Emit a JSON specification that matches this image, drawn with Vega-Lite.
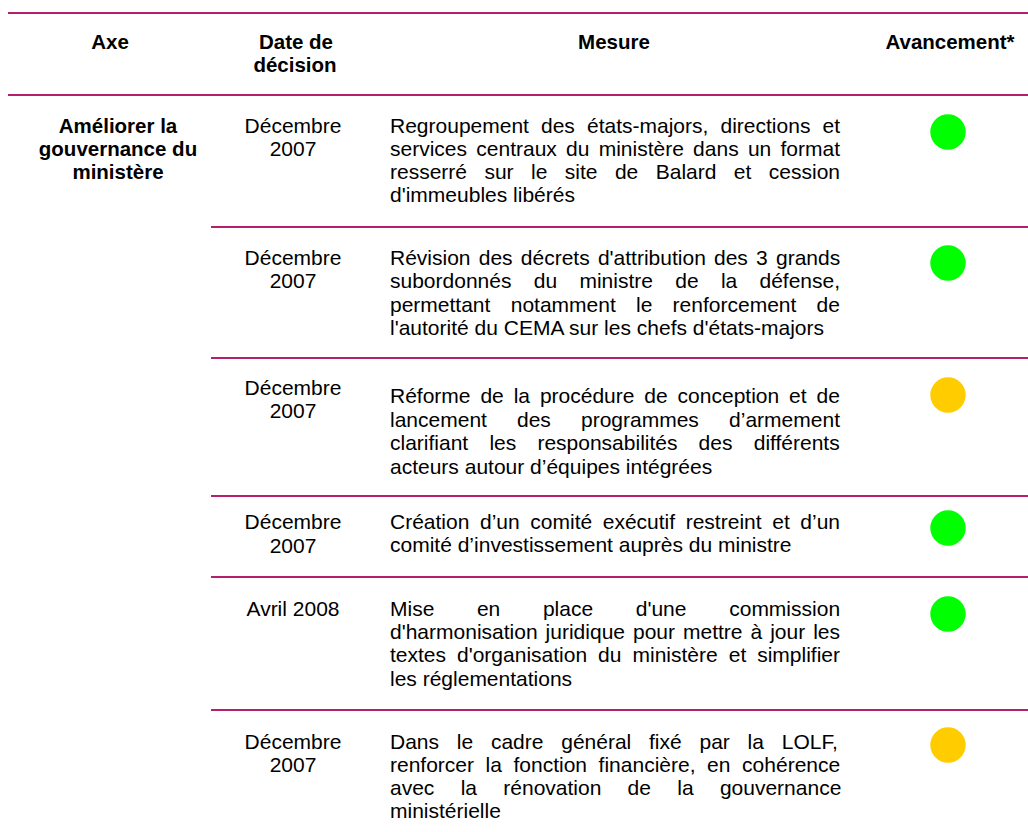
{
  "$schema": "https://vega.github.io/schema/vega-lite/v6.json",
  "width": 1028,
  "height": 832,
  "padding": 0,
  "autosize": {"type": "none"},
  "background": "white",
  "config": {"view": {"stroke": null}},
  "datasets": {
    "rules": [
      {"x1": 8, "x2": 1028, "y": 13},
      {"x1": 8, "x2": 1028, "y": 95},
      {"x1": 211, "x2": 1028, "y": 227},
      {"x1": 211, "x2": 1028, "y": 358},
      {"x1": 211, "x2": 1028, "y": 496},
      {"x1": 211, "x2": 1028, "y": 577},
      {"x1": 211, "x2": 1028, "y": 710}
    ],
    "bold": [
      {"x": 110, "y": 49, "t": "Axe"},
      {"x": 296, "y": 49, "t": "Date de"},
      {"x": 295, "y": 72, "t": "décision"},
      {"x": 614, "y": 49, "t": "Mesure"},
      {"x": 950, "y": 49, "t": "Avancement*"},
      {"x": 118, "y": 133, "t": "Améliorer la"},
      {"x": 118, "y": 156, "t": "gouvernance du"},
      {"x": 118, "y": 179, "t": "ministère"}
    ],
    "dates": [
      {"x": 293, "y": 133, "t": "Décembre"},
      {"x": 293, "y": 156, "t": "2007"},
      {"x": 293, "y": 265, "t": "Décembre"},
      {"x": 293, "y": 288, "t": "2007"},
      {"x": 293, "y": 395, "t": "Décembre"},
      {"x": 293, "y": 418, "t": "2007"},
      {"x": 293, "y": 529, "t": "Décembre"},
      {"x": 293, "y": 553, "t": "2007"},
      {"x": 293, "y": 616, "t": "Avril 2008"},
      {"x": 293, "y": 749, "t": "Décembre"},
      {"x": 293, "y": 772, "t": "2007"}
    ],
    "mesures": [
      {"x": 390, "y": 133, "t": "Regroupement"},
      {"x": 541.0, "y": 133, "t": "des"},
      {"x": 587.0, "y": 133, "t": "états-majors,"},
      {"x": 720.5, "y": 133, "t": "directions"},
      {"x": 822.5, "y": 133, "t": "et"},
      {"x": 390, "y": 156, "t": "services"},
      {"x": 476.3, "y": 156, "t": "centraux"},
      {"x": 566.0, "y": 156, "t": "du"},
      {"x": 598.7, "y": 156, "t": "ministère"},
      {"x": 693.1, "y": 156, "t": "dans"},
      {"x": 747.9, "y": 156, "t": "un"},
      {"x": 780.5, "y": 156, "t": "format"},
      {"x": 390, "y": 179, "t": "resserré"},
      {"x": 484.4, "y": 179, "t": "sur"},
      {"x": 531.0, "y": 179, "t": "le"},
      {"x": 564.8, "y": 179, "t": "site"},
      {"x": 614.9, "y": 179, "t": "de"},
      {"x": 655.7, "y": 179, "t": "Balard"},
      {"x": 733.8, "y": 179, "t": "et"},
      {"x": 768.8, "y": 179, "t": "cession"},
      {"x": 390, "y": 202, "t": "d'immeubles libérés"},
      {"x": 390, "y": 265, "t": "Révision"},
      {"x": 478.7, "y": 265, "t": "des"},
      {"x": 520.8, "y": 265, "t": "décrets"},
      {"x": 597.9, "y": 265, "t": "d'attribution"},
      {"x": 714.0, "y": 265, "t": "des"},
      {"x": 756.1, "y": 265, "t": "3"},
      {"x": 776.0, "y": 265, "t": "grands"},
      {"x": 390, "y": 288, "t": "subordonnés"},
      {"x": 533.7, "y": 288, "t": "du"},
      {"x": 579.4, "y": 288, "t": "ministre"},
      {"x": 675.2, "y": 288, "t": "de"},
      {"x": 720.9, "y": 288, "t": "la"},
      {"x": 759.5, "y": 288, "t": "défense,"},
      {"x": 390, "y": 312, "t": "permettant"},
      {"x": 510.7, "y": 312, "t": "notamment"},
      {"x": 636.0, "y": 312, "t": "le"},
      {"x": 672.6, "y": 312, "t": "renforcement"},
      {"x": 816.6, "y": 312, "t": "de"},
      {"x": 390, "y": 335, "t": "l'autorité du CEMA sur les chefs d'états-majors"},
      {"x": 390, "y": 403, "t": "Réforme"},
      {"x": 480.4, "y": 403, "t": "de"},
      {"x": 513.7, "y": 403, "t": "la"},
      {"x": 539.9, "y": 403, "t": "procédure"},
      {"x": 644.3, "y": 403, "t": "de"},
      {"x": 677.6, "y": 403, "t": "conception"},
      {"x": 789.1, "y": 403, "t": "et"},
      {"x": 816.5, "y": 403, "t": "de"},
      {"x": 390, "y": 427, "t": "lancement"},
      {"x": 517.0, "y": 427, "t": "des"},
      {"x": 581.0, "y": 427, "t": "programmes"},
      {"x": 729.1, "y": 427, "t": "d’armement"},
      {"x": 390, "y": 450, "t": "clarifiant"},
      {"x": 489.4, "y": 450, "t": "les"},
      {"x": 537.4, "y": 450, "t": "responsabilités"},
      {"x": 698.6, "y": 450, "t": "des"},
      {"x": 753.7, "y": 450, "t": "différents"},
      {"x": 390, "y": 474, "t": "acteurs autour d’équipes intégrées"},
      {"x": 390, "y": 529, "t": "Création"},
      {"x": 480.0, "y": 529, "t": "d’un"},
      {"x": 530.3, "y": 529, "t": "comité"},
      {"x": 602.7, "y": 529, "t": "exécutif"},
      {"x": 685.7, "y": 529, "t": "restreint"},
      {"x": 772.2, "y": 529, "t": "et"},
      {"x": 800.3, "y": 529, "t": "d’un"},
      {"x": 390, "y": 552, "t": "comité d’investissement auprès du ministre"},
      {"x": 390, "y": 616, "t": "Mise"},
      {"x": 476.9, "y": 616, "t": "en"},
      {"x": 542.9, "y": 616, "t": "place"},
      {"x": 635.7, "y": 616, "t": "d'une"},
      {"x": 729.2, "y": 616, "t": "commission"},
      {"x": 390, "y": 639, "t": "d'harmonisation"},
      {"x": 545.6, "y": 639, "t": "juridique"},
      {"x": 633.0, "y": 639, "t": "pour"},
      {"x": 683.0, "y": 639, "t": "mettre"},
      {"x": 750.5, "y": 639, "t": "à"},
      {"x": 770.2, "y": 639, "t": "jour"},
      {"x": 813.2, "y": 639, "t": "les"},
      {"x": 390, "y": 662, "t": "textes"},
      {"x": 457.0, "y": 662, "t": "d'organisation"},
      {"x": 598.1, "y": 662, "t": "du"},
      {"x": 632.5, "y": 662, "t": "ministère"},
      {"x": 728.7, "y": 662, "t": "et"},
      {"x": 757.2, "y": 662, "t": "simplifier"},
      {"x": 390, "y": 686, "t": "les réglementations"},
      {"x": 390, "y": 749, "t": "Dans"},
      {"x": 456.8, "y": 749, "t": "le"},
      {"x": 490.9, "y": 749, "t": "cadre"},
      {"x": 561.2, "y": 749, "t": "général"},
      {"x": 649.0, "y": 749, "t": "fixé"},
      {"x": 699.5, "y": 749, "t": "par"},
      {"x": 747.6, "y": 749, "t": "la"},
      {"x": 781.7, "y": 749, "t": "LOLF,"},
      {"x": 390, "y": 772, "t": "renforcer"},
      {"x": 485.6, "y": 772, "t": "la"},
      {"x": 513.5, "y": 772, "t": "fonction"},
      {"x": 598.6, "y": 772, "t": "financière,"},
      {"x": 707.1, "y": 772, "t": "en"},
      {"x": 742.1, "y": 772, "t": "cohérence"},
      {"x": 390, "y": 795, "t": "avec"},
      {"x": 460.7, "y": 795, "t": "la"},
      {"x": 503.3, "y": 795, "t": "rénovation"},
      {"x": 627.6, "y": 795, "t": "de"},
      {"x": 677.3, "y": 795, "t": "la"},
      {"x": 719.9, "y": 795, "t": "gouvernance"},
      {"x": 390, "y": 818, "t": "ministérielle"}
    ],
    "status": [
      {"x": 948, "y": 132, "s": "réalisé"},
      {"x": 948, "y": 263, "s": "réalisé"},
      {"x": 948, "y": 395, "s": "en cours"},
      {"x": 948, "y": 528, "s": "réalisé"},
      {"x": 948, "y": 614, "s": "réalisé"},
      {"x": 948, "y": 745, "s": "en cours"}
    ]
  },
  "layer": [
    {
      "data": {"name": "rules"},
      "mark": {"type": "rule", "color": "#B5206E", "strokeWidth": 2.2},
      "encoding": {
        "x": {"field": "x1", "type": "quantitative", "scale": {"domain": [0, 1028]}, "axis": null},
        "x2": {"field": "x2"},
        "y": {"field": "y", "type": "quantitative", "scale": {"domain": [0, 832], "reverse": true}, "axis": null}
      }
    },
    {
      "data": {"name": "bold"},
      "mark": {"type": "text", "font": "Liberation Sans", "fontSize": 20.5, "fontWeight": "bold", "align": "center", "baseline": "alphabetic", "color": "#000000"},
      "encoding": {
        "x": {"field": "x", "type": "quantitative", "scale": {"domain": [0, 1028]}, "axis": null},
        "y": {"field": "y", "type": "quantitative", "scale": {"domain": [0, 832], "reverse": true}, "axis": null},
        "text": {"field": "t"}
      }
    },
    {
      "data": {"name": "dates"},
      "mark": {"type": "text", "font": "Liberation Sans", "fontSize": 21, "align": "center", "baseline": "alphabetic", "color": "#000000"},
      "encoding": {
        "x": {"field": "x", "type": "quantitative", "scale": {"domain": [0, 1028]}, "axis": null},
        "y": {"field": "y", "type": "quantitative", "scale": {"domain": [0, 832], "reverse": true}, "axis": null},
        "text": {"field": "t"}
      }
    },
    {
      "data": {"name": "mesures"},
      "mark": {"type": "text", "font": "Liberation Sans", "fontSize": 21, "align": "left", "baseline": "alphabetic", "color": "#000000"},
      "encoding": {
        "x": {"field": "x", "type": "quantitative", "scale": {"domain": [0, 1028]}, "axis": null},
        "y": {"field": "y", "type": "quantitative", "scale": {"domain": [0, 832], "reverse": true}, "axis": null},
        "text": {"field": "t"}
      }
    },
    {
      "data": {"name": "status"},
      "mark": {"type": "circle", "size": 1257, "opacity": 1},
      "encoding": {
        "x": {"field": "x", "type": "quantitative", "scale": {"domain": [0, 1028]}, "axis": null},
        "y": {"field": "y", "type": "quantitative", "scale": {"domain": [0, 832], "reverse": true}, "axis": null},
        "color": {"field": "s", "type": "nominal", "scale": {"domain": ["réalisé", "en cours"], "range": ["#00FF00", "#FFCC00"]}, "legend": null}
      }
    }
  ]
}
